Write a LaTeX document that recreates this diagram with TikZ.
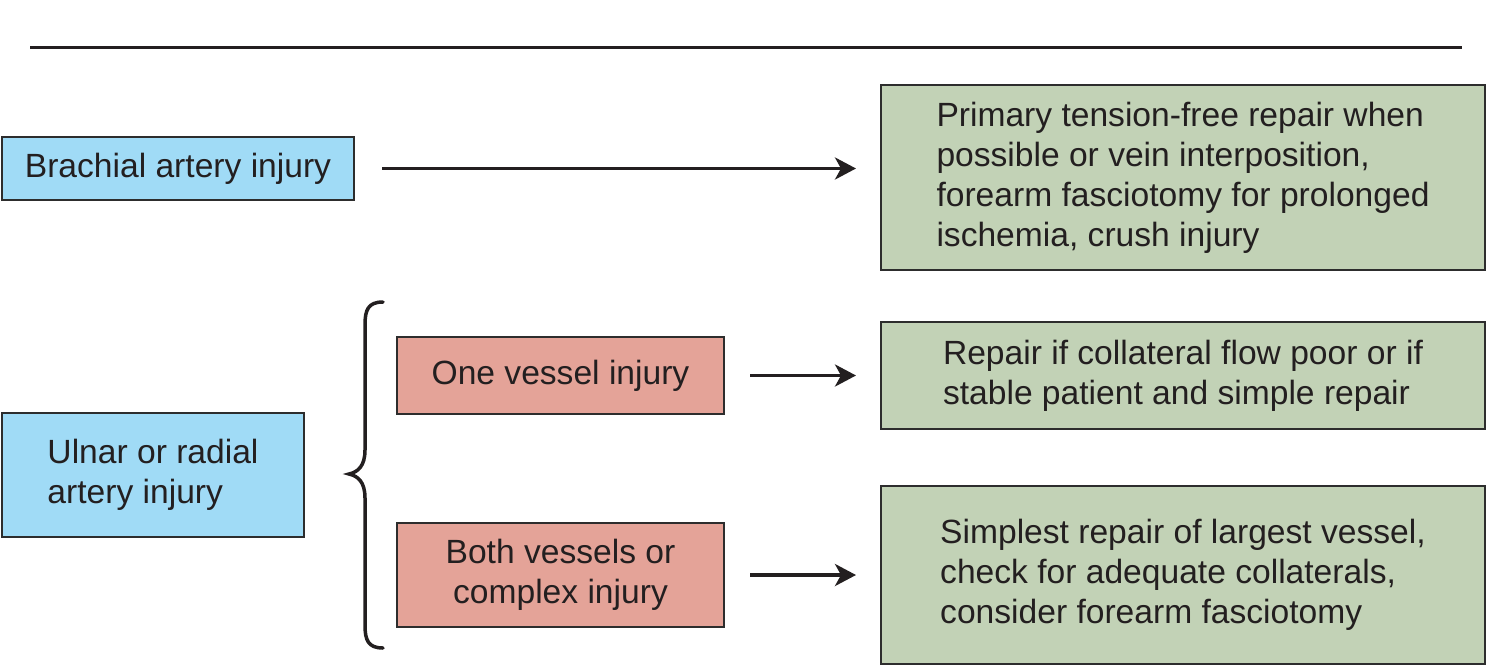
\documentclass[tikz,border=0pt]{standalone}
\usepackage{fontspec}
\setmainfont{Liberation Sans}
\usetikzlibrary{arrows.meta}
\definecolor{txt}{RGB}{35,31,32}
\definecolor{bluefill}{RGB}{160,219,246}
\definecolor{pinkfill}{RGB}{228,163,152}
\definecolor{greenfill}{RGB}{194,210,182}
\definecolor{edge}{RGB}{45,45,45}
\tikzset{
  box/.style={draw=edge, line width=2pt, inner sep=0pt, text=txt, align=center,
    font=\fontsize{33.6}{40}\selectfont},
  bluebox/.style={box, fill=bluefill},
  pinkbox/.style={box, fill=pinkfill},
  greenbox/.style={box, fill=greenfill, align=left},
  conn/.style={draw=txt, line width=3.5pt, -{Stealth[length=21pt,width=22pt,inset=6pt]}}
}
\begin{document}
\begin{tikzpicture}[x=1pt,y=-1pt]
\useasboundingbox (0,0) rectangle (1488,667);
% top rule
\coordinate (r1) at (30,47);
\coordinate (r2) at (1462,47);
\draw[txt, line width=3pt] (r1) -- (r2);
% nodes
\node[bluebox, minimum width=352pt, minimum height=63pt] (brach) at (178,168.5) {Brachial artery injury};
\node[greenbox, minimum width=604pt, minimum height=185pt] (g1) at (1183,177.5)
  {Primary tension-free repair when\\possible or vein interposition,\\forearm fasciotomy for prolonged\\ischemia, crush injury};
\node[bluebox, align=left, minimum width=302pt, minimum height=124pt] (ulnar) at (153,475) {Ulnar or radial\\artery injury};
\node[pinkbox, minimum width=327pt, minimum height=77pt] (one) at (560.5,375.5) {One vessel injury};
\node[greenbox, minimum width=604pt, minimum height=107pt] (g2) at (1183,375.5)
  {Repair if collateral flow poor or if\\stable patient and simple repair};
\node[pinkbox, minimum width=327pt, minimum height=104pt] (both) at (560.5,575) {Both vessels or\\complex injury};
\node[greenbox, minimum width=604pt, minimum height=178pt] (g3) at (1183,575)
  {Simplest repair of largest vessel,\\check for adequate collaterals,\\consider forearm fasciotomy};
% connectors
\draw[conn, shorten <=27pt, shorten >=24pt] (brach.east) -- (g1.west |- brach.east);
\draw[conn, shorten <=25pt, shorten >=24pt] (one.east) -- (g2.west |- one.east);
\draw[conn, shorten <=25pt, shorten >=24pt] (both.east) -- (g3.west |- both.east);
% brace
\draw[txt, line width=3.5pt, line cap=round]
  (383,302) .. controls (368,302) and (365,310) .. (365,325)
  -- (365,450) .. controls (365,466) and (358,472) .. (349,474)
  .. controls (358,476) and (365,482) .. (365,498)
  -- (365,625) .. controls (365,640) and (368,648) .. (383,648);
\end{tikzpicture}
\end{document}
